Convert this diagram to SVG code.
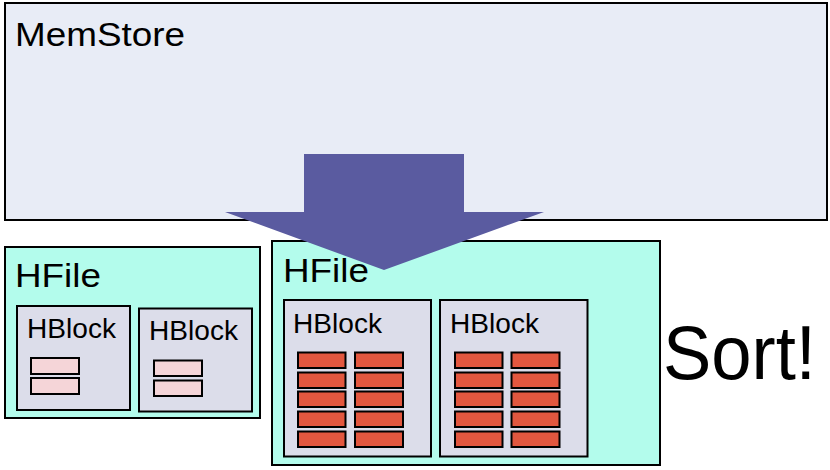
<svg xmlns="http://www.w3.org/2000/svg" width="830" height="470" viewBox="0 0 830 470">
<style>
text{font-family:"Liberation Sans",Arial,sans-serif;fill:#000}
.mem{fill:#E8ECF6;stroke:#000;stroke-width:2}
.hfile{fill:#B3FCEC;stroke:#000;stroke-width:2}
.hblock{fill:#DCDDEA;stroke:#000;stroke-width:2}
.red{fill:#E2573F;stroke:#000;stroke-width:2}
.pink{fill:#F5D5D8;stroke:#000;stroke-width:2}
.t1{font-size:34px}
.t2{font-size:28px}
</style>
<g id="memstore">
<rect class="mem" x="5" y="3" width="822" height="217"/>
<text class="t1" x="15" y="46" textLength="170" lengthAdjust="spacingAndGlyphs">MemStore</text>
</g>
<g id="hfile-left">
<rect class="hfile" x="5" y="247" width="255" height="171"/>
<text class="t1" x="15" y="287" textLength="86" lengthAdjust="spacingAndGlyphs">HFile</text>
<g id="hblock-left-1">
<rect class="hblock" x="17" y="306" width="113" height="104"/>
<text class="t2" x="27" y="338" textLength="89" lengthAdjust="spacingAndGlyphs">HBlock</text>
<rect class="pink" x="31" y="358" width="48" height="16"/>
<rect class="pink" x="31" y="378" width="48" height="16"/>
</g>
<g id="hblock-left-2">
<rect class="hblock" x="139" y="308.5" width="113" height="103"/>
<text class="t2" x="149" y="340" textLength="89" lengthAdjust="spacingAndGlyphs">HBlock</text>
<rect class="pink" x="154" y="360.5" width="48" height="15.5"/>
<rect class="pink" x="154" y="380.5" width="48" height="15.5"/>
</g>
</g>
<g id="hfile-right">
<rect class="hfile" x="272" y="241" width="388" height="224"/>
<text class="t1" x="283" y="282" textLength="86" lengthAdjust="spacingAndGlyphs">HFile</text>
<g id="hblock-right-1">
<rect class="hblock" x="284" y="300" width="147" height="156.5"/>
<text class="t2" x="293" y="333" textLength="89" lengthAdjust="spacingAndGlyphs">HBlock</text>
<rect class="red" x="298" y="352.5" width="47.5" height="15.5"/>
<rect class="red" x="298" y="372.5" width="47.5" height="15.5"/>
<rect class="red" x="298" y="391.5" width="47.5" height="15.5"/>
<rect class="red" x="298" y="411.5" width="47.5" height="15.5"/>
<rect class="red" x="298" y="431.5" width="47.5" height="15.5"/>
<rect class="red" x="355" y="352.5" width="48" height="15.5"/>
<rect class="red" x="355" y="372.5" width="48" height="15.5"/>
<rect class="red" x="355" y="391.5" width="48" height="15.5"/>
<rect class="red" x="355" y="411.5" width="48" height="15.5"/>
<rect class="red" x="355" y="431.5" width="48" height="15.5"/>
</g>
<g id="hblock-right-2">
<rect class="hblock" x="440" y="300" width="147.5" height="156.5"/>
<text class="t2" x="450" y="333" textLength="89" lengthAdjust="spacingAndGlyphs">HBlock</text>
<rect class="red" x="455" y="352.5" width="47.5" height="15.5"/>
<rect class="red" x="455" y="372.5" width="47.5" height="15.5"/>
<rect class="red" x="455" y="391.5" width="47.5" height="15.5"/>
<rect class="red" x="455" y="411.5" width="47.5" height="15.5"/>
<rect class="red" x="455" y="431.5" width="47.5" height="15.5"/>
<rect class="red" x="511.5" y="352.5" width="48" height="15.5"/>
<rect class="red" x="511.5" y="372.5" width="48" height="15.5"/>
<rect class="red" x="511.5" y="391.5" width="48" height="15.5"/>
<rect class="red" x="511.5" y="411.5" width="48" height="15.5"/>
<rect class="red" x="511.5" y="431.5" width="48" height="15.5"/>
</g>
</g>
<g id="connectors">
<polygon fill="#5A5BA0" points="304,154 464,154 464,212 544,212 384,270 225,212 304,212"/>
</g>
<g id="sort-label">
<text x="663" y="379" font-size="76" textLength="153" lengthAdjust="spacingAndGlyphs">Sort!</text>
</g>
</svg>
